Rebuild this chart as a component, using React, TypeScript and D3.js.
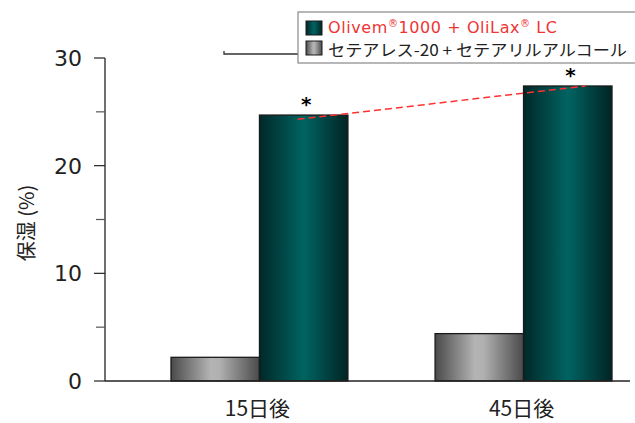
import React from "react";
import * as d3 from "d3";

const categories = ["15日後", "45日後"];
const seriesNames = ["セテアレス-20 + セテアリルアルコール", "Olivem®1000 + OliLax® LC"];
const controlValues = [2.2, 4.4];
const olivemValues = [24.7, 27.4];
const yTicks = [0, 10, 20, 30];
const yMinorTicks = [5, 15, 25];
const trendStart = 24.3;
const trendEnd = 27.4;

const W = 635;
const H = 423;

function withSuperscripts(label: string) {
  const parts = label.split("®");
  const out: React.ReactNode[] = [];
  parts.forEach((p, i) => {
    out.push(
      <tspan key={`p${i}`} dy={i > 0 ? 6 : 0}>
        {p}
      </tspan>
    );
    if (i < parts.length - 1) {
      out.push(
        <tspan key={`r${i}`} fontSize={10} dy={-6}>
          ®
        </tspan>
      );
    }
  });
  return out;
}

export default function App() {
  const y = d3.scaleLinear().domain([0, 30]).range([381, 58]);
  const x0 = d3.scaleBand<string>().domain(categories).range([171, 612]).paddingInner(0.33).paddingOuter(0);
  const x1 = d3.scaleBand<string>().domain(["c", "o"]).range([0, x0.bandwidth()]);
  const axisX = 105;
  const font = "'DejaVu Sans', 'Noto Sans CJK JP', sans-serif";
  const jp = "'Noto Sans CJK JP', 'DejaVu Sans', sans-serif";

  const series = [
    { key: "c", values: controlValues, fill: "url(#grayGrad)" },
    { key: "o", values: olivemValues, fill: "url(#tealGrad)" },
  ];

  const tStartX = (x0(categories[0]) as number) + (x1("o") as number) + x1.bandwidth() * 0.43;
  const tEndX = (x0(categories[1]) as number) + (x1("o") as number) + x1.bandwidth() * 0.7;

  return (
    <svg width={W} height={H} style={{ position: "absolute", left: 0, top: 0, background: "#fff" }}>
      <defs>
        <linearGradient id="tealGrad" x1="0" x2="1" y1="0" y2="0">
          <stop offset="0" stopColor="#012828" />
          <stop offset="0.5" stopColor="#006462" />
          <stop offset="1" stopColor="#012424" />
        </linearGradient>
        <linearGradient id="grayGrad" x1="0" x2="1" y1="0" y2="0">
          <stop offset="0" stopColor="#4a4a4a" />
          <stop offset="0.45" stopColor="#b4b4b4" />
          <stop offset="0.55" stopColor="#b0b0b0" />
          <stop offset="1" stopColor="#4a4a4a" />
        </linearGradient>
      </defs>

      {/* bars */}
      {categories.map((c, i) => (
        <g key={c} transform={`translate(${x0(c)},0)`}>
          {series.map((s) => (
            <rect
              key={s.key}
              x={x1(s.key) as number}
              y={y(s.values[i])}
              width={x1.bandwidth()}
              height={y(0) - y(s.values[i])}
              fill={s.fill}
              stroke="#1a1a1a"
              strokeWidth={1.3}
            />
          ))}
        </g>
      ))}

      {/* trend line */}
      <line
        x1={tStartX}
        y1={y(trendStart)}
        x2={tEndX}
        y2={y(trendEnd)}
        stroke="#ff3030"
        strokeWidth={1.5}
        strokeDasharray="7,4"
      />

      {/* asterisks */}
      {categories.map((c, i) => (
        <text
          key={c}
          x={(x0(c) as number) + (x1("o") as number) + x1.bandwidth() * 0.53}
          y={y(olivemValues[i]) - 4}
          textAnchor="middle"
          fontFamily={font}
          fontSize={20}
          fontWeight="bold"
          fill="#000"
        >
          *
        </text>
      ))}

      {/* axes */}
      <line x1={axisX} x2={axisX} y1={y(30)} y2={y(0)} stroke="#222" strokeWidth={1.3} />
      <line x1={axisX} x2={630} y1={y(0)} y2={y(0)} stroke="#222" strokeWidth={1.3} />
      {yTicks.map((t) => (
        <g key={t}>
          <line x1={94} x2={axisX} y1={y(t)} y2={y(t)} stroke="#222" strokeWidth={1.2} />
          <text x={82} y={y(t)} dy="0.36em" textAnchor="end" fontFamily={font} fontSize={22} fill="#222">
            {t}
          </text>
        </g>
      ))}
      {yMinorTicks.map((t) => (
        <line key={t} x1={96} x2={axisX} y1={y(t)} y2={y(t)} stroke="#555" strokeWidth={1.2} />
      ))}

      {/* category labels */}
      {categories.map((c) => (
        <text
          key={c}
          x={(x0(c) as number) + x0.bandwidth() / 2 - 2}
          y={416}
          textAnchor="middle"
          fontFamily={jp}
          fontSize={21}
          fill="#222"
        >
          {c}
        </text>
      ))}

      {/* y label */}
      <text
        transform={`translate(34,223) rotate(-90)`}
        textAnchor="middle"
        fontFamily={jp}
        fontSize={20}
        fill="#222"
      >
        保湿 (%)
      </text>

      {/* legend connector */}
      <polyline points="224,51 224,54 298,54" fill="none" stroke="#333" strokeWidth={1.3} />

      {/* legend */}
      <rect x={298} y={12} width={345} height={51} fill="#fff" stroke="#888" strokeWidth={1.2} />
      <rect x={306} y={21} width={16} height={14} fill="url(#tealGrad)" stroke="#1a1a1a" strokeWidth={1} />
      <rect x={306} y={41} width={16} height={14} fill="url(#grayGrad)" stroke="#1a1a1a" strokeWidth={1} />
      <text x={328} y={33} fontFamily={font} fontSize={16} fill="#ee3535" textLength={229} lengthAdjust="spacing">
        {withSuperscripts(seriesNames[1])}
      </text>
      <text x={328} y={56} fontFamily={jp} fontSize={16} fill="#222" textLength={299} lengthAdjust="spacingAndGlyphs">
        {seriesNames[0]}
      </text>
    </svg>
  );
}
